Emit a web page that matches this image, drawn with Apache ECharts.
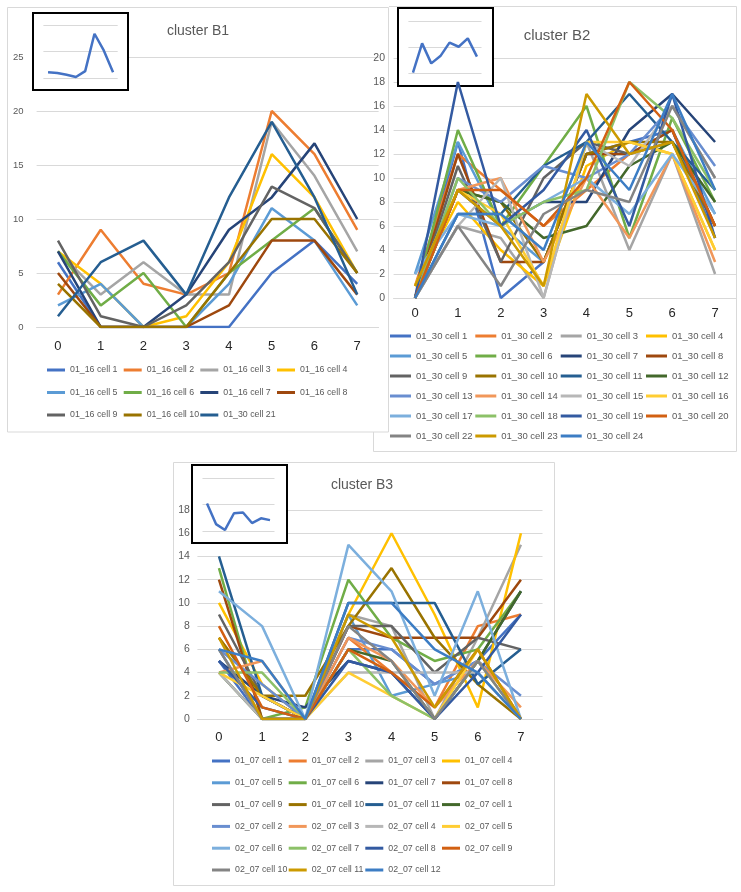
<!DOCTYPE html>
<html><head><meta charset="utf-8">
<script src="https://cdn.jsdelivr.net/npm/echarts@6/dist/echarts.min.js"></script>
<style>html,body{margin:0;padding:0;background:#fff}#c{width:741px;height:892px}</style>
</head><body><div id="c"></div>
<script>
// ---------- data ----------
const xCats = ['0','1','2','3','4','5','6','7'];

const b1Names = ['01_16 cell 1','01_16 cell 2','01_16 cell 3','01_16 cell 4','01_16 cell 5','01_16 cell 6',
  '01_16 cell 7','01_16 cell 8','01_16 cell 9','01_16 cell 10','01_30 cell 21'];
const b1Values = [
  [6,0,0,0,0,5,8,4],
  [3,9,4,3,5,20,16,9],
  [7,3,6,3,3,19,14,7],
  [7,4,0,1,6,16,12,5],
  [2,4,0,0,4,11,8,2],
  [7,2,5,0,5,8,11,5],
  [7,0,0,3,9,12,17,10],
  [5,0,0,0,2,8,8,3],
  [8,1,0,2,6,13,11,5],
  [4,0,0,0,5,10,10,5],
  [1,6,8,3,12,19,12,3]
];
const b1Inset = [0.22,0.19,0.12,0.04,0.26,1.67,1.04,0.22];

const b2Names = ['01_30 cell 1','01_30 cell 2','01_30 cell 3','01_30 cell 4','01_30 cell 5','01_30 cell 6',
  '01_30 cell 7','01_30 cell 8','01_30 cell 9','01_30 cell 10','01_30 cell 11','01_30 cell 12',
  '01_30 cell 13','01_30 cell 14','01_30 cell 15','01_30 cell 16','01_30 cell 17','01_30 cell 18',
  '01_30 cell 19','01_30 cell 20','01_30 cell 22','01_30 cell 23','01_30 cell 24'];
const b2Values = [
  [0,13,0,3,12,13,14,5],
  [1,12,9,6,9,12,14,6],
  [0,6,5,0,13,4,12,2],
  [1,8,4,1,11,13,12,4],
  [2,13,6,3,12,12,14,7],
  [0,14,6,11,16,5,15,8],
  [0,9,6,8,8,14,17,13],
  [0,12,3,3,12,12,14,6],
  [0,11,3,10,13,12,13,6],
  [0,9,8,3,12,13,13,6],
  [0,7,7,11,13,17,13,9],
  [0,9,8,5,6,11,13,8],
  [0,10,8,11,10,12,16,11],
  [0,9,10,3,10,5,12,3],
  [0,6,10,0,13,11,16,10],
  [1,9,7,1,13,13,12,4],
  [2,7,6,8,10,7,12,7],
  [0,10,6,8,9,18,15,9],
  [0,18,6,9,14,6,17,5],
  [0,9,9,6,10,18,14,6],
  [0,6,1,7,9,8,16,10],
  [1,9,6,1,17,12,13,5],
  [0,7,7,4,13,9,17,9]
];
const b2Inset = [0.01,1.14,0.37,0.65,1.17,1.01,1.33,0.63];

const b3Names = ['01_07 cell 1','01_07 cell 2','01_07 cell 3','01_07 cell 4','01_07 cell 5','01_07 cell 6',
  '01_07 cell 7','01_07 cell 8','01_07 cell 9','01_07 cell 10','01_07 cell 11','02_07 cell 1',
  '02_07 cell 2','02_07 cell 3','02_07 cell 4','02_07 cell 5','02_07 cell 6','02_07 cell 7',
  '02_07 cell 8','02_07 cell 9','02_07 cell 10','02_07 cell 11','02_07 cell 12'];
const b3Values = [
  [5,0,0,6,6,3,5,9],
  [7,2,0,7,4,1,8,9],
  [6,0,0,9,8,0,7,15],
  [10,3,0,9,16,9,1,16],
  [6,0,0,9,2,3,4,0],
  [13,0,1,12,7,5,6,11],
  [5,2,1,5,4,0,5,11],
  [12,0,0,8,7,7,7,12],
  [9,2,0,8,8,4,7,6],
  [7,2,2,8,13,7,3,0],
  [14,2,0,10,10,10,3,6],
  [4,0,0,6,5,0,5,11],
  [6,3,0,7,6,3,5,2],
  [4,5,0,7,5,1,5,1],
  [4,0,0,4,4,4,4,0],
  [4,2,0,4,2,0,6,0],
  [11,8,0,15,11,2,11,0],
  [4,4,0,6,2,0,5,0],
  [5,1,0,5,4,0,4,9],
  [8,1,0,6,4,1,6,0],
  [6,0,0,8,5,0,5,0],
  [7,0,0,9,7,1,6,0],
  [6,5,0,10,10,6,4,0]
];
const b3Inset = [1.04,0.26,0.04,0.67,0.70,0.30,0.48,0.41];

const titles = ['cluster B1','cluster B2','cluster B3'];

// ---------- styles ----------
const palette = ['#4472C4','#ED7D31','#A5A5A5','#FFC000','#5B9BD5','#70AD47','#264478','#9E480E',
  '#636363','#997300','#255E91','#43682B','#698ED0','#F1975A','#B7B7B7','#FFCD33','#7CAFDD','#8CC168',
  '#335AA1','#D26012','#848484','#CC9A00','#3C7DC4','#548235'];
const SANS = "'Liberation Sans',Arial,sans-serif";
const GRIDC = '#d9d9d9';
const TXT = '#595959';

const panels = [
  {names:b1Names, values:b1Values, inset:b1Inset,
   grid:{left:36.6, top:57, width:342, height:270}, yMax:25, yInt:5, ySize:9.5, yMargin:13, xMargin:12.5,
   igrid:{left:43.4, top:25, width:74.3, height:53},
   legCols:[47,123.7,200.3,277], legTop:364, legGap:10.5, legW:18, legSize:8.8,
   title:{x:198, y:31, size:14}},
  {names:b2Names, values:b2Values, inset:b2Inset,
   grid:{left:393.6, top:58, width:342.9, height:240}, yMax:20, yInt:2, ySize:10.5, yMargin:8.6, xMargin:8.5,
   igrid:{left:408.4, top:21, width:73.1, height:52},
   legCols:[390,475.3,560.7,646], legTop:330, legGap:8, legW:21, legSize:9.5,
   title:{x:557, y:36, size:15}},
  {names:b3Names, values:b3Values, inset:b3Inset,
   grid:{left:197.4, top:510, width:345.1, height:209}, yMax:18, yInt:2, ySize:10.5, yMargin:7.5, xMargin:11.5,
   igrid:{left:202.5, top:478, width:72, height:53},
   legCols:[212,288.7,365.3,442], legTop:755, legGap:9.8, legW:18, legSize:8.8,
   title:{x:362, y:485, size:14}}
];

const grids = [], xAxes = [], yAxes = [], series = [], legends = [], graphics = [];

panels.forEach((p, pi) => {
  grids.push(Object.assign({outerBoundsMode:'none', containLabel:false}, p.grid));
  xAxes.push({gridIndex:pi, type:'category', data:xCats, boundaryGap:true,
    axisLine:{show:true, lineStyle:{color:GRIDC, width:1}}, axisTick:{show:false},
    axisLabel:{color:'#262626', fontSize:13, fontFamily:SANS, margin:p.xMargin}, splitLine:{show:false}});
  yAxes.push({gridIndex:pi, type:'value', min:0, max:p.yMax, interval:p.yInt,
    axisLine:{show:false}, axisTick:{show:false},
    axisLabel:{color:TXT, fontSize:p.ySize, fontFamily:SANS, margin:p.yMargin},
    splitLine:{show:true, lineStyle:{color:GRIDC, width:1}}});
  p.names.forEach((n, i) => {
    series.push({type:'line', name:n, data:p.values[i], xAxisIndex:pi, yAxisIndex:pi,
      symbol:'none', showSymbol:false, silent:true, z:2,
      lineStyle:{width:2.5, color:palette[i]}, itemStyle:{color:palette[i]}});
  });
  p.legCols.forEach((x, c) => {
    legends.push({orient:'vertical', left:x, top:p.legTop, padding:0, itemGap:p.legGap,
      itemWidth:p.legW, itemHeight:3, icon:'rect', selectedMode:false,
      textStyle:{fontSize:p.legSize, color:TXT, fontFamily:SANS, lineHeight:12},
      data:p.names.filter((n, i) => i % 4 === c)});
  });
  graphics.push({type:'text', z:5, style:{text:titles[pi], x:p.title.x, y:p.title.y,
    textAlign:'center', textVerticalAlign:'middle', fill:TXT, fontSize:p.title.size, fontFamily:SANS}});
});

// insets
panels.forEach((p, pi) => {
  const gi = 3 + pi;
  grids.push(Object.assign({outerBoundsMode:'none', containLabel:false}, p.igrid));
  xAxes.push({gridIndex:gi, type:'category', data:xCats, boundaryGap:true, show:false});
  yAxes.push({gridIndex:gi, type:'value', min:0, max:2, interval:1, z:3,
    axisLabel:{show:false}, axisLine:{show:false}, axisTick:{show:false},
    splitLine:{show:true, lineStyle:{color:GRIDC, width:1}}});
  series.push({type:'line', name:'avg ' + titles[pi], data:p.inset, xAxisIndex:gi, yAxisIndex:gi,
    symbol:'none', showSymbol:false, silent:true, z:4,
    lineStyle:{width:2.5, color:'#4472C4'}, itemStyle:{color:'#4472C4'}});
});

// frames
graphics.push({type:'rect', z:0, silent:true, shape:{x:7.5, y:7.5, width:381, height:424.5},
  style:{fill:'none', stroke:GRIDC, lineWidth:1}});
graphics.push({type:'polyline', z:0, silent:true,
  shape:{points:[[389,6.5],[736.5,6.5],[736.5,451.5],[373.5,451.5],[373.5,432]]},
  style:{fill:'none', stroke:GRIDC, lineWidth:1}});
graphics.push({type:'rect', z:0, silent:true, shape:{x:173.5, y:462.5, width:381, height:423},
  style:{fill:'none', stroke:GRIDC, lineWidth:1}});
// inset boxes
[[33,13,95,77],[398,8,95,78],[192,465,95,78]].forEach(r => {
  graphics.push({type:'rect', z:1, silent:true, shape:{x:r[0], y:r[1], width:r[2], height:r[3]},
    style:{fill:'#fff', stroke:'#000', lineWidth:2}});
});

const chart = echarts.init(document.getElementById('c'), null, {renderer:'canvas'});
chart.setOption({
  animation:false,
  color:palette,
  backgroundColor:'#fff',
  grid:grids, xAxis:xAxes, yAxis:yAxes, series:series, legend:legends,
  graphic:{elements:graphics}
});
</script></body></html>
